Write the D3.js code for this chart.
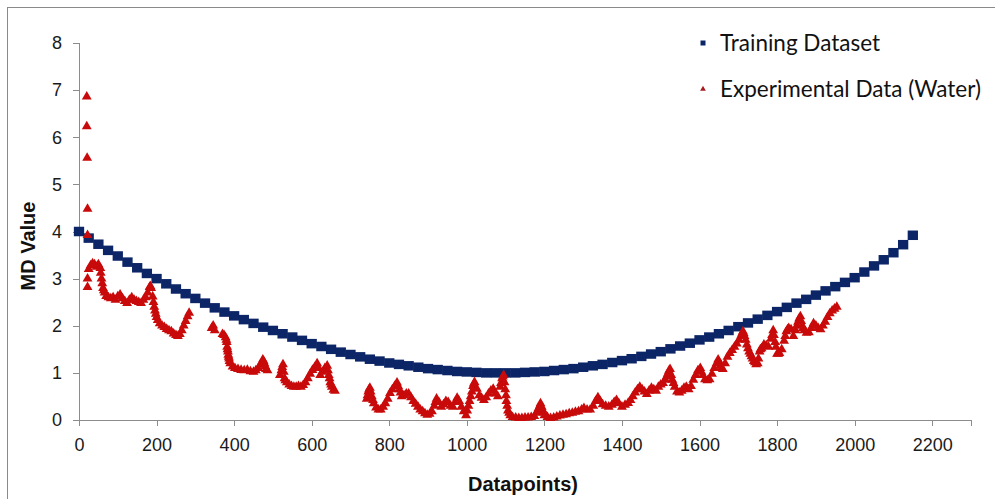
<!DOCTYPE html>
<html lang="en">
<head>
  <meta charset="UTF-8">
  <title>MD Value chart</title>
  <script src="https://d3js.org/d3.v7.min.js"></script>
  <style>
    body { margin: 0; background: #fff; }

    /* axis lines and tick marks */
    .axis path,
    .axis line {
      fill: none;
      stroke: #8c8c8c;
      shape-rendering: crispEdges;
    }

    .axis text {
      font-family: "Liberation Sans", Arial, sans-serif;
      font-size: 18px;
      fill: #1a1a1a;
    }

    .axis-label {
      font-family: "Liberation Sans", Arial, sans-serif;
      font-size: 20px;
      font-weight: bold;
      fill: #111;
    }

    .legend text {
      font-family: Lato, "Open Sans", sans-serif;
      font-size: 22.5px;
      fill: #111;
    }
  </style>
</head>
<body>
<div id="chart"></div>
<script>
  // ticks
  const xTicks = [0, 200, 400, 600, 800, 1000, 1200, 1400, 1600, 1800, 2000, 2200];
  const yTicks = [0, 1, 2, 3, 4, 5, 6, 7, 8];

  // Training Dataset (blue squares)
  const trainX = [0, 25, 50, 75, 100, 125, 150, 175, 200, 225, 250, 275, 300, 325, 350, 375, 400, 425, 450, 475,
    500, 525, 550, 575, 600, 625, 650, 675, 700, 725, 750, 775, 800, 825, 850, 875, 900, 925, 950, 975,
    1000, 1025, 1050, 1075, 1100, 1125, 1150, 1175, 1200, 1225, 1250, 1275, 1300, 1325, 1350, 1375, 1400, 1425, 1450, 1475,
    1500, 1525, 1550, 1575, 1600, 1625, 1650, 1675, 1700, 1725, 1750, 1775, 1800, 1825, 1850, 1875, 1900, 1925, 1950, 1975,
    2000, 2025, 2050, 2075, 2100, 2125, 2150];
  const trainY = [4.00, 3.86, 3.73, 3.60, 3.48, 3.35, 3.23, 3.11, 3.00, 2.89, 2.78, 2.68, 2.58, 2.48, 2.38, 2.29, 2.21, 2.13, 2.05, 1.97,
    1.90, 1.83, 1.76, 1.69, 1.62, 1.56, 1.50, 1.44, 1.39, 1.34, 1.29, 1.25, 1.21, 1.18, 1.15, 1.12, 1.09, 1.07, 1.05, 1.03,
    1.02, 1.01, 1.00, 1.00, 1.00, 1.00, 1.01, 1.02, 1.03, 1.05, 1.07, 1.09, 1.12, 1.15, 1.18, 1.22, 1.26, 1.30, 1.35, 1.40,
    1.45, 1.51, 1.57, 1.63, 1.70, 1.76, 1.83, 1.90, 1.98, 2.06, 2.14, 2.22, 2.30, 2.39, 2.48, 2.56, 2.65, 2.74, 2.83, 2.92,
    3.02, 3.14, 3.27, 3.40, 3.55, 3.72, 3.92];

  // Experimental Data (Water) (red triangles), [datapoint, MD value]
  const expData = [
    [20, 6.86], [20, 6.23], [21, 5.56], [22, 4.48], [22, 3.92], [22, 2.82], [22, 3.0],
    [25, 3.2], [30, 3.28], [35, 3.32], [40, 3.3], [45, 3.25], [50, 3.3], [55, 3.22], [56, 3.12], [58, 3.0],
    [60, 2.9], [62, 2.8], [64, 2.75], [66, 2.7], [70, 2.63], [76, 2.6], [82, 2.58], [88, 2.6], [94, 2.55],
    [100, 2.62], [106, 2.66], [112, 2.58], [118, 2.52], [124, 2.48], [130, 2.55], [136, 2.6], [142, 2.55],
    [148, 2.52], [154, 2.5], [160, 2.48], [166, 2.55], [172, 2.6], [177, 2.7], [182, 2.82], [184, 2.84],
    [186, 2.8], [190, 2.62], [192, 2.5], [194, 2.4], [196, 2.32], [198, 2.25], [200, 2.18], [203, 2.12],
    [208, 2.05], [214, 2.0], [220, 1.97], [226, 1.93], [232, 1.9], [238, 1.88], [244, 1.83], [250, 1.8],
    [255, 1.78], [260, 1.82], [265, 1.9], [270, 2.0], [275, 2.1], [280, 2.2], [284, 2.27],

    [342, 1.95], [346, 2.0], [350, 1.9], [370, 1.82], [374, 1.8], [378, 1.75], [380, 1.7], [381, 1.65],
    [382, 1.55], [383, 1.5], [384, 1.45], [385, 1.38], [386, 1.34], [387, 1.3], [388, 1.25], [390, 1.2],
    [396, 1.13], [402, 1.1], [410, 1.08], [418, 1.06], [426, 1.05], [434, 1.06], [442, 1.03], [450, 1.02],
    [456, 1.05], [462, 1.1], [468, 1.18], [472, 1.23], [474, 1.28], [476, 1.25], [478, 1.2], [480, 1.14],
    [482, 1.08], [486, 1.05],

    [518, 0.95], [522, 1.05], [524, 1.12], [526, 1.18], [528, 1.02], [530, 0.88], [532, 0.84], [536, 0.8],
    [542, 0.75], [548, 0.72], [554, 0.7], [560, 0.7], [566, 0.72], [572, 0.7], [578, 0.74], [584, 0.8],
    [590, 0.88], [596, 0.98], [602, 1.06], [608, 1.12], [614, 1.2], [618, 1.1], [622, 0.95], [628, 1.02],
    [634, 1.1], [640, 1.15], [642, 1.05], [644, 0.95], [646, 0.88], [648, 0.8], [650, 0.75], [652, 0.7],
    [656, 0.64], [660, 0.62],

    [742, 0.45], [744, 0.52], [746, 0.6], [748, 0.65], [750, 0.68], [752, 0.6], [755, 0.5], [758, 0.42],
    [760, 0.35], [766, 0.26], [772, 0.22], [778, 0.22], [784, 0.28], [790, 0.35], [796, 0.45], [802, 0.57],
    [808, 0.65], [814, 0.72], [820, 0.79], [823, 0.72], [826, 0.65], [829, 0.58], [832, 0.5], [838, 0.52],
    [844, 0.56], [850, 0.56], [856, 0.48], [862, 0.4], [868, 0.34], [874, 0.28], [880, 0.22], [886, 0.18],
    [892, 0.14], [898, 0.11], [904, 0.13], [910, 0.18], [916, 0.3], [919, 0.38], [922, 0.45], [928, 0.38],
    [934, 0.28], [940, 0.33], [946, 0.4], [952, 0.38], [958, 0.3], [964, 0.28], [970, 0.38], [975, 0.47],
    [980, 0.4], [986, 0.28], [992, 0.18], [998, 0.1], [1001, 0.2], [1004, 0.3], [1007, 0.4], [1010, 0.5],
    [1013, 0.6], [1016, 0.72], [1018, 0.77], [1020, 0.8], [1026, 0.66], [1032, 0.52], [1038, 0.47],
    [1044, 0.42], [1050, 0.48], [1056, 0.56], [1062, 0.62], [1068, 0.66], [1074, 0.56], [1080, 0.5],
    [1086, 0.7], [1088, 0.78], [1091, 0.88], [1093, 0.92], [1095, 0.95], [1097, 0.8], [1099, 0.65],
    [1101, 0.52], [1102, 0.4], [1104, 0.3], [1106, 0.2], [1109, 0.15], [1112, 0.1], [1118, 0.06],
    [1126, 0.05], [1134, 0.04], [1142, 0.04], [1150, 0.05], [1158, 0.05], [1166, 0.06], [1174, 0.08],
    [1180, 0.15], [1183, 0.2], [1185, 0.25], [1188, 0.3], [1190, 0.35], [1193, 0.28], [1195, 0.22],
    [1198, 0.16], [1200, 0.1], [1208, 0.06], [1216, 0.04], [1224, 0.05], [1232, 0.07], [1240, 0.09],
    [1248, 0.11], [1256, 0.12], [1264, 0.14], [1272, 0.15], [1280, 0.17], [1288, 0.18], [1296, 0.22],
    [1302, 0.25], [1310, 0.22], [1318, 0.22], [1326, 0.3], [1332, 0.4], [1338, 0.48], [1344, 0.4],
    [1350, 0.33], [1358, 0.3], [1366, 0.28], [1374, 0.32], [1380, 0.38], [1386, 0.42], [1392, 0.35],
    [1400, 0.28], [1408, 0.32], [1416, 0.36], [1422, 0.42], [1428, 0.5], [1434, 0.58], [1440, 0.65],
    [1446, 0.7], [1452, 0.65], [1458, 0.6], [1464, 0.55], [1470, 0.62], [1476, 0.68], [1482, 0.65],
    [1488, 0.62], [1494, 0.7], [1500, 0.75], [1506, 0.78], [1512, 0.85], [1515, 0.92], [1518, 0.98],
    [1521, 1.04], [1524, 1.08], [1527, 0.95], [1530, 0.85], [1533, 0.78], [1536, 0.7], [1542, 0.6],
    [1548, 0.58], [1554, 0.62], [1560, 0.68], [1566, 0.7], [1572, 0.65], [1578, 0.72], [1584, 0.85],
    [1590, 0.95], [1596, 1.05], [1602, 1.1], [1605, 1.02], [1608, 0.95], [1614, 0.86], [1620, 0.84],
    [1626, 0.86], [1632, 0.98], [1638, 1.1], [1644, 1.2], [1648, 1.28], [1651, 1.22], [1654, 1.15],
    [1657, 1.1], [1660, 1.08], [1666, 1.2], [1672, 1.34], [1678, 1.42], [1684, 1.48], [1690, 1.55],
    [1696, 1.62], [1702, 1.7], [1708, 1.8], [1710, 1.84], [1712, 1.88], [1714, 1.84], [1716, 1.78],
    [1719, 1.7], [1722, 1.6], [1725, 1.52], [1728, 1.45], [1731, 1.4], [1734, 1.35], [1737, 1.3],
    [1740, 1.25], [1743, 1.22], [1746, 1.18], [1750, 1.2], [1752, 1.3], [1755, 1.45], [1757, 1.5],
    [1760, 1.52], [1766, 1.6], [1772, 1.58], [1778, 1.55], [1784, 1.72], [1787, 1.8], [1790, 1.9],
    [1792, 1.8], [1795, 1.65], [1797, 1.55], [1800, 1.4], [1803, 1.4], [1806, 1.42], [1812, 1.5],
    [1818, 1.68], [1821, 1.78], [1824, 1.88], [1827, 1.92], [1830, 1.95], [1836, 1.92], [1842, 1.78],
    [1848, 1.9], [1851, 2.0], [1854, 2.08], [1857, 2.15], [1860, 2.2], [1862, 2.1], [1865, 2.0],
    [1867, 1.95], [1870, 1.9], [1876, 1.85], [1882, 1.86], [1888, 1.95], [1894, 2.05], [1900, 2.0],
    [1906, 1.95], [1912, 1.92], [1918, 2.0], [1924, 2.08], [1930, 2.18], [1936, 2.26], [1942, 2.32],
    [1948, 2.36], [1954, 2.4]
  ];

  const seriesNames = ["Training Dataset", "Experimental Data (Water)"];
  const seriesColors = ["#0c2566", "#c80a0a"];

  const width = 995, height = 499;

  const svg = d3.select("#chart")
          .append("svg")
          .attr("width", width)
          .attr("height", height);

  svg.append("rect")
          .attr("width", width)
          .attr("height", height)
          .attr("fill", "#fff");

  // outer frame (only top and left edges fall inside the picture)
  svg.append("rect")
          .attr("x", 7.5)
          .attr("y", 7.5)
          .attr("width", width + 10)
          .attr("height", height + 10)
          .attr("fill", "none")
          .attr("stroke", "#8a8a8a");

  const x = d3.scaleLinear()
          .domain([0, 2300])
          .range([79, 971]);

  const y = d3.scaleLinear()
          .domain([0, 8])
          .range([420, 43]);

  svg.append("g")
          .attr("class", "axis")
          .attr("transform", "translate(0,420)")
          .call(d3.axisBottom(x).tickValues(xTicks).tickFormat(d3.format("d"))
                  .tickSizeOuter(0).tickSize(6).tickPadding(12));

  svg.append("g")
          .attr("class", "axis")
          .attr("transform", "translate(79,0)")
          .call(d3.axisLeft(y).tickValues(yTicks).tickSizeOuter(0).tickSize(6).tickPadding(11));

  svg.append("text")
          .attr("class", "axis-label")
          .attr("x", 523)
          .attr("y", 491)
          .style("text-anchor", "middle")
          .text("Datapoints)");

  svg.append("text")
          .attr("class", "axis-label")
          .attr("transform", "translate(35,246) rotate(-90)")
          .style("text-anchor", "middle")
          .text("MD Value");

  // training squares, wide enough to touch the next one (stair look)
  const sqW = x(25) - x(0) + 0.6, sqH = 9.5;
  svg.append("g")
          .selectAll("rect")
          .data(d3.zip(trainX, trainY))
          .enter().append("rect")
          .attr("x", d => x(d[0]) - sqW / 2)
          .attr("y", d => y(d[1]) - sqH / 2)
          .attr("width", sqW)
          .attr("height", sqH)
          .attr("fill", seriesColors[0]);

  // experimental triangles
  const tri = d3.symbol().type(d3.symbolTriangle).size(42);
  svg.append("g")
          .selectAll("path")
          .data(expData)
          .enter().append("path")
          .attr("d", tri)
          .attr("transform", d => "translate(" + x(d[0]) + "," + y(d[1]) + ")")
          .attr("fill", seriesColors[1]);

  // legend
  const legend = svg.append("g").attr("class", "legend");
  legend.append("rect")
          .attr("x", 700.5)
          .attr("y", 40.5)
          .attr("width", 5)
          .attr("height", 5)
          .attr("fill", seriesColors[0]);
  legend.append("path")
          .attr("d", d3.symbol().type(d3.symbolTriangle).size(14))
          .attr("transform", "translate(703,89)")
          .attr("fill", "#a61c1c");
  legend.selectAll("text")
          .data(seriesNames)
          .enter().append("text")
          .attr("x", 720)
          .attr("y", (d, i) => 43 + i * 46)
          .attr("dy", "0.35em")
          .text(d => d);
</script>
</body>
</html>
